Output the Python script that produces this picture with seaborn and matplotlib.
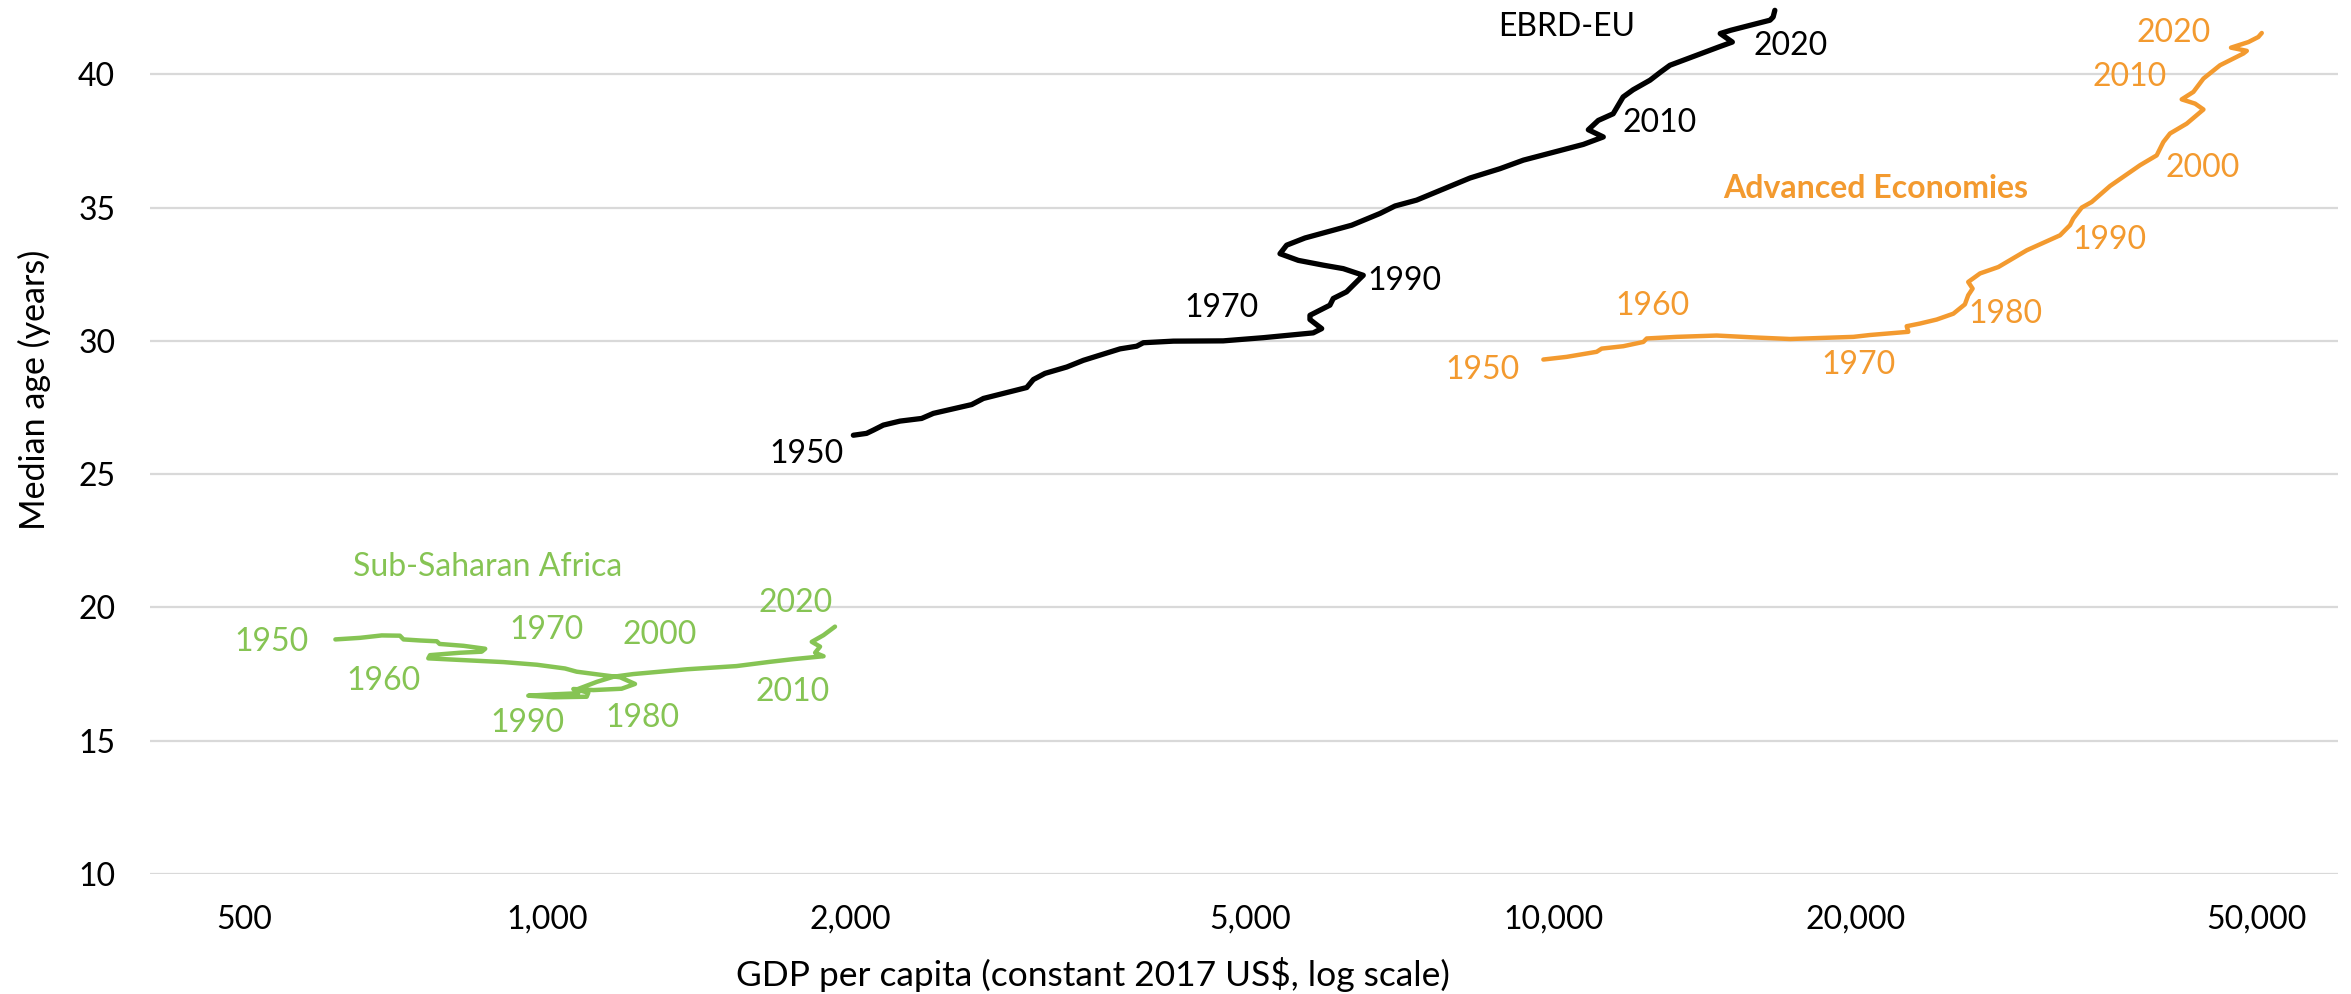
import matplotlib
matplotlib.use("Agg")
import matplotlib.pyplot as plt
import seaborn as sns
import pandas as pd
from matplotlib.ticker import FixedLocator, NullLocator

# ---------------- data ----------------
EBRD_GDP = [2016, 2078, 2110, 2159, 2243, 2357, 2421, 2643, 2715, 2998, 3044, 3126,
            3286, 3413, 3712, 3856, 3915, 4194, 4700, 5153, 5776, 5889, 5733, 5733,
            6001, 6047, 6234, 6428, 6477, 6187, 5911, 5582, 5353, 5435, 5668, 6308,
            6730, 6965, 7318, 8270, 8858, 9344, 10718, 11220, 10842, 11092, 11476,
            11740, 12012, 12487, 12798, 13069, 14600, 15075, 14662, 15013, 16431,
            16550, 16615]
EBRD_AGE = [26.46, 26.53, 26.65, 26.84, 26.99, 27.09, 27.28, 27.61, 27.84, 28.25, 28.55, 28.78,
            29.02, 29.27, 29.70, 29.80, 29.93, 29.99, 30.00, 30.12, 30.30, 30.46, 30.80, 30.96,
            31.34, 31.59, 31.84, 32.34, 32.46, 32.71, 32.84, 33.02, 33.27, 33.59, 33.86, 34.34,
            34.78, 35.06, 35.28, 36.11, 36.46, 36.78, 37.37, 37.65, 37.92, 38.27, 38.52,
            39.15, 39.42, 39.78, 40.09, 40.34, 41.02, 41.21, 41.53, 41.65, 42.03,
            42.15, 42.40]

ADV_GDP = [9781, 10318, 11051, 11178, 11747, 12297, 12392, 13272, 14543, 15820, 17205,
           19887, 20655, 22552, 22468, 23162, 24064, 25000, 25670, 25866, 26128, 25866,
           26575, 27713, 29580, 31915, 32650, 32898, 33540, 34315, 35785, 38330, 39820,
           40430, 41053, 42652, 44316, 43476, 42165, 43310, 44316, 46030, 48560, 48940,
           47205, 49120, 50250, 50645]
ADV_AGE = [29.30, 29.40, 29.59, 29.71, 29.80, 29.96, 30.09, 30.15, 30.20, 30.13, 30.07,
           30.15, 30.22, 30.34, 30.55, 30.65, 30.80, 31.02, 31.37, 31.71, 31.96, 32.21,
           32.53, 32.77, 33.40, 33.96, 34.34, 34.59, 35.00, 35.21, 35.81, 36.59, 36.96,
           37.46, 37.78, 38.15, 38.68, 38.90, 39.06, 39.34, 39.84, 40.34, 40.78, 40.88,
           41.00, 41.21, 41.40, 41.55]

SSA_GDP = [616, 652, 685, 714, 720, 748, 777, 782, 826, 868, 861, 819, 765, 762, 819,
           905, 977, 1042, 1070, 1137, 1182, 1223, 1186, 1112, 1062, 1074, 1015, 958,
           1015, 1095, 1099, 1070, 1121, 1164, 1218, 1377, 1543, 1666, 1757, 1883,
           1847, 1868, 1833, 1883, 1933]
SSA_AGE = [18.80, 18.86, 18.95, 18.94, 18.80, 18.76, 18.73, 18.63, 18.56, 18.45, 18.34,
           18.30, 18.21, 18.09, 18.03, 17.95, 17.85, 17.71, 17.59, 17.46, 17.38, 17.13,
           16.95, 16.90, 16.94, 16.78, 16.74, 16.69, 16.63, 16.65, 16.80, 16.92, 17.21,
           17.40, 17.50, 17.68, 17.80, 17.96, 18.06, 18.17, 18.30, 18.53, 18.71, 18.96,
           19.28]

# year labels (text, position in data units)
EBRD_LABELS = ["1950", "1970", "1990", "2010", "2020", "EBRD-EU"]
EBRD_LABEL_GDP = [1813, 4677, 7110, 12750, 17240, 10320]
EBRD_LABEL_AGE = [25.75, 31.23, 32.24, 38.16, 41.05, 41.76]

ADV_LABELS = ["1950", "1960", "1970", "1980", "1990", "2000", "2010", "2020"]
ADV_LABEL_GDP = [8500, 12570, 20100, 28140, 35700, 44280, 37460, 41430]
ADV_LABEL_AGE = [28.90, 31.30, 29.09, 31.00, 33.78, 36.48, 39.89, 41.54]
ADV_NAME = "Advanced Economies"
ADV_NAME_POS = (20950, 35.73)

SSA_LABELS = ["1950", "1960", "1970", "1980", "1990", "2000", "2010", "2020", "Sub-Saharan Africa"]
SSA_LABEL_GDP = [532, 687, 998, 1243, 957, 1295, 1756, 1768, 872]
SSA_LABEL_AGE = [18.70, 17.24, 19.15, 15.85, 15.66, 18.96, 16.83, 20.16, 21.51]

X_TICKS = [500, 1000, 2000, 5000, 10000, 20000, 50000]
X_TICKLABELS = ["500", "1,000", "2,000", "5,000", "10,000", "20,000", "50,000"]
Y_TICKS = [10, 15, 20, 25, 30, 35, 40]

# ---------------- styling ----------------
sns.set_theme(style="white")
plt.rcParams["font.family"] = ["Lato", "DejaVu Sans"]

BLACK = "#000000"
ORANGE = "#F39A2F"
GREEN = "#86C454"
FS = 23

W, H = 2351, 994
fig = plt.figure(figsize=(W / 100, H / 100), dpi=100)
left, right, bottom, top = 150, 2338, 874, 5
ax = fig.add_axes([left / W, 1 - bottom / H, (right - left) / W, (bottom - top) / H])

df_e = pd.DataFrame({"gdp": EBRD_GDP, "age": EBRD_AGE})
df_a = pd.DataFrame({"gdp": ADV_GDP, "age": ADV_AGE})
df_s = pd.DataFrame({"gdp": SSA_GDP, "age": SSA_AGE})

sns.lineplot(data=df_e, x="gdp", y="age", sort=False, estimator=None, color=BLACK,
             lw=3.8, ax=ax, zorder=3)
sns.lineplot(data=df_a, x="gdp", y="age", sort=False, estimator=None, color=ORANGE,
             lw=3.2, ax=ax, zorder=3)
sns.lineplot(data=df_s, x="gdp", y="age", sort=False, estimator=None, color=GREEN,
             lw=3.2, ax=ax, zorder=3)

ax.set_xscale("log")
ax.set_xlim(403, 60300)
ax.set_ylim(10, 42.6)
ax.xaxis.set_major_locator(FixedLocator(X_TICKS))
ax.xaxis.set_minor_locator(NullLocator())
ax.set_xticklabels(X_TICKLABELS)
ax.set_yticks(Y_TICKS)
ax.set_yticklabels([str(v) for v in Y_TICKS])
ax.tick_params(axis="both", length=0, labelsize=FS, colors="black")
ax.tick_params(axis="y", pad=25)
ax.tick_params(axis="x", pad=22)
ax.grid(False)
ax.yaxis.grid(True, color="#D9D9D9", lw=1.6)
ax.set_axisbelow(True)
for s in ax.spines.values():
    s.set_visible(False)
ax.set_xlabel("")
ax.set_ylabel("")

def put(labels, gx, gy, color):
    for t, x, y in zip(labels, gx, gy):
        ax.text(x, y, t, ha="center", va="center", fontsize=FS, color=color, zorder=4)

put(EBRD_LABELS, EBRD_LABEL_GDP, EBRD_LABEL_AGE, BLACK)
put(ADV_LABELS, ADV_LABEL_GDP, ADV_LABEL_AGE, ORANGE)
put(SSA_LABELS, SSA_LABEL_GDP, SSA_LABEL_AGE, GREEN)
ax.text(ADV_NAME_POS[0], ADV_NAME_POS[1], ADV_NAME, ha="center", va="center",
        fontsize=FS, color=ORANGE, fontweight="bold", zorder=4)

fig.text(1093 / W, 1 - 974 / H, "GDP per capita (constant 2017 US$, log scale)",
         ha="center", va="center", fontsize=25.5, color="black")
fig.text(34 / W, 1 - 390 / H, "Median age (years)", ha="center", va="center",
         rotation=90, fontsize=24.5, color="black")

fig.savefig("out.png", dpi=100)
